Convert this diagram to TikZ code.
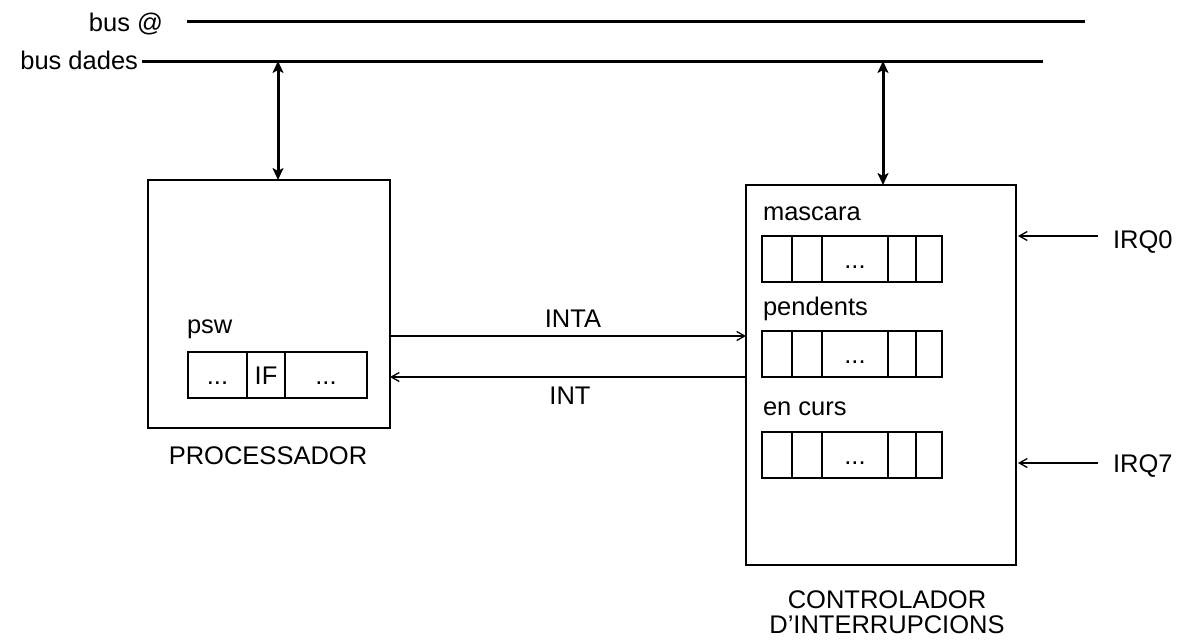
\documentclass[tikz,border=0pt]{standalone}
\usepackage{fontspec}
\setmainfont{Liberation Sans}
\usetikzlibrary{arrows.meta,positioning,calc}
\tikzset{
  every picture/.style={line width=1.3pt},
  every node/.style={font=\fontsize{25.5pt}{25pt}\selectfont, inner sep=0pt, outer sep=0pt},
  box/.style={draw, rectangle},
  cell/.style={draw, rectangle, minimum height=46pt, text height=18pt, text depth=0pt, anchor=north west},
  bus/.style={line width=3pt},
  busarrow/.style={line width=3pt, {Stealth[length=12pt,width=11pt,inset=3pt]}-{Stealth[length=12pt,width=11pt,inset=3pt]}},
  sig/.style={-{Straight Barb[length=8pt,width=9pt]}},
}

\begin{document}
\begin{tikzpicture}[x=1pt,y=-1pt]
    \useasboundingbox (0,0) rectangle (1178,641);

    % busos
    \node[anchor=base east] (busadr) at (163,31) {bus @};
    \node[anchor=base east] (busdad) at (138,69) {bus dades};
    \coordinate (adrstart) at (187,21);
    \coordinate (adrend) at (1085,21);
    \coordinate (dadstart) at (142,61);
    \coordinate (dadend) at (1043,61);
    \draw[bus] (adrstart) -- (adrend);
    \draw[bus] (dadstart) -- (dadend);

    % processador
    \node[box, minimum width=242pt, minimum height=248pt] (proc) at (269,304) {};
    \node[anchor=base] (proclbl) at (268,464) {PROCESSADOR};
    \node[anchor=base west] (psw) at (187,333) {psw};
    \node[cell, minimum width=59pt] (psw1) at (188,352) {...};
    \node[cell, minimum width=38pt, right=0pt of psw1] (psw2) {IF};
    \node[cell, minimum width=82pt, right=0pt of psw2] (psw3) {...};

    % controlador
    \node[box, minimum width=270pt, minimum height=380pt] (ctrl) at (881,375) {};
    \node[anchor=north, align=center] (ctrllbl) at (887,591) {CONTROLADOR\\D'INTERRUPCIONS};
    \foreach \reg/\lbl/\ytop/\ybase in {msk/mascara/236/220, pnd/pendents/331/315, cur/en curs/432/415} {
        \node[anchor=base west] (\reg lbl) at (763,\ybase) {\lbl};
        \node[cell, minimum width=30pt] (\reg1) at (762,\ytop) {};
        \node[cell, minimum width=30pt, right=0pt of \reg1] (\reg2) {};
        \node[cell, minimum width=66pt, right=0pt of \reg2] (\reg3) {...};
        \node[cell, minimum width=28pt, right=0pt of \reg3] (\reg4) {};
        \node[cell, minimum width=26pt, right=0pt of \reg4] (\reg5) {};
    }

    % connexions
    \coordinate (procbus) at (278,61);
    \coordinate (ctrlbus) at (883,61);
    \draw[busarrow] (procbus) -- (procbus |- proc.north);
    \draw[busarrow] (ctrlbus) -- (ctrlbus |- ctrl.north);

    \draw[sig] ($(proc.east)+(0,32)$) -- ($(ctrl.west |- proc.east)+(0,32)$);
    \draw[sig] ($(ctrl.west |- proc.east)+(0,73)$) -- ($(proc.east)+(0,73)$);
    \node[anchor=base] (inta) at (573,327) {INTA};
    \node[anchor=base] (int) at (570,404) {INT};

    \node[anchor=base west] (irq0) at (1113,248) {IRQ0};
    \node[anchor=base west] (irq7) at (1113,472) {IRQ7};
    \coordinate (irq0in) at (1098,236);
    \coordinate (irq7in) at (1098,463);
    \draw[sig, shorten >=2pt] (irq0in) -- (irq0in -| ctrl.east);
    \draw[sig, shorten >=2pt] (irq7in) -- (irq7in -| ctrl.east);
\end{tikzpicture}
\end{document}
